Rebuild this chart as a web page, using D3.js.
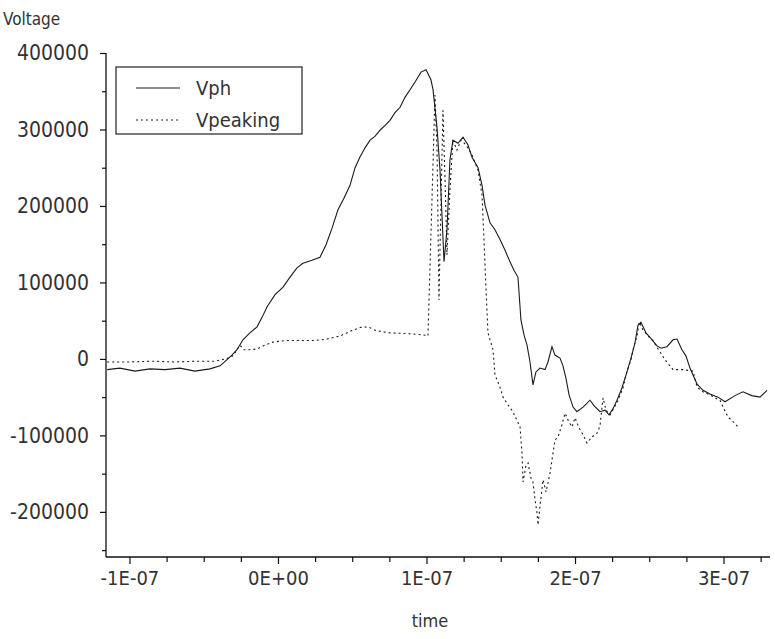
<!DOCTYPE html>
<html>
<head>
<meta charset="utf-8">
<script src="https://cdn.jsdelivr.net/npm/d3@7"></script>
<style>
  html, body { margin: 0; padding: 0; background: #fff; }
  svg text { font-family: "Liberation Sans Narrow", "DejaVu Sans Condensed", "Liberation Sans", sans-serif; fill: #333; }
</style>
</head>
<body>
<svg id="chart" width="775" height="639"></svg>
<script>
// time values in units of 1E-07 s, voltages in V
const vphTime = [-1.15,-1.064,-0.963,-0.862,-0.761,-0.66,-0.559,-0.458,-0.39,-0.343,-0.31,-0.276,-0.236,-0.189,-0.141,-0.108,-0.074,-0.02,0.034,0.081,0.128,0.168,0.229,0.283,0.323,0.364,0.404,0.444,0.485,0.519,0.552,0.586,0.62,0.653,0.687,0.72,0.754,0.788,0.822,0.855,0.889,0.923,0.963,0.997,1.03,1.044,1.071,1.091,1.118,1.138,1.158,1.178,1.212,1.246,1.279,1.306,1.347,1.374,1.394,1.428,1.461,1.495,1.529,1.562,1.589,1.616,1.636,1.657,1.677,1.697,1.717,1.737,1.764,1.798,1.818,1.845,1.865,1.899,1.919,1.939,1.96,1.987,2.013,2.054,2.101,2.128,2.168,2.202,2.229,2.256,2.283,2.316,2.35,2.377,2.404,2.424,2.444,2.478,2.519,2.552,2.579,2.619,2.66,2.687,2.72,2.747,2.774,2.822,2.862,2.909,2.963,3.01,3.077,3.131,3.19,3.246,3.293];
const vphValue = [-14000,-12000,-16000,-13000,-14000,-12000,-16000,-13000,-9000,-1000,5000,12000,25000,34000,42000,54000,68000,84000,94000,107000,119000,125000,129000,133000,149000,171000,195000,210000,227000,250000,264000,276000,286000,291000,299000,305000,312000,322000,329000,342000,352000,362000,375000,378000,365000,352000,302000,247000,127000,169000,260000,286000,282000,290000,280000,264000,250000,227000,201000,178000,169000,156000,142000,127000,116000,107000,51000,31000,18000,-4000,-34000,-17000,-12000,-14000,-4000,16000,5000,1000,-9000,-25000,-47000,-63000,-69000,-63000,-54000,-61000,-69000,-67000,-73000,-65000,-54000,-38000,-17000,1000,21000,44000,48000,34000,25000,17000,14000,16000,25000,26000,12000,4000,-12000,-33000,-41000,-46000,-50000,-56000,-48000,-43000,-48000,-50000,-41000];

const vpkTime = [-1.15,-1.0,-0.85,-0.7,-0.55,-0.424,-0.377,-0.337,-0.303,-0.276,-0.256,-0.229,-0.189,-0.141,-0.088,-0.034,0.047,0.148,0.249,0.33,0.418,0.498,0.552,0.606,0.66,0.754,0.889,0.99,1.01,1.037,1.057,1.071,1.084,1.098,1.111,1.125,1.138,1.158,1.178,1.205,1.232,1.266,1.306,1.347,1.374,1.387,1.401,1.414,1.448,1.461,1.495,1.515,1.549,1.582,1.63,1.643,1.65,1.67,1.684,1.704,1.717,1.731,1.744,1.751,1.764,1.785,1.805,1.832,1.845,1.865,1.886,1.912,1.933,1.953,1.98,2.0,2.027,2.054,2.081,2.114,2.148,2.168,2.189,2.209,2.236,2.263,2.29,2.323,2.35,2.377,2.397,2.418,2.431,2.458,2.492,2.525,2.559,2.606,2.66,2.727,2.795,2.822,2.862,2.909,2.943,2.976,2.997,3.03,3.064,3.098];
const vpkValue = [-4000,-4000,-3000,-4000,-3000,-3000,-1000,1000,4000,12000,18000,12000,12000,13000,18000,22000,24000,24000,24000,26000,30000,37000,41000,42000,37000,34000,33000,31000,30000,208000,345000,273000,77000,208000,325000,234000,136000,221000,286000,273000,286000,280000,267000,247000,214000,156000,90000,34000,12000,-21000,-37000,-50000,-60000,-69000,-89000,-123000,-161000,-139000,-136000,-156000,-161000,-184000,-201000,-217000,-193000,-158000,-174000,-149000,-132000,-106000,-102000,-86000,-71000,-80000,-89000,-77000,-90000,-99000,-110000,-102000,-97000,-88000,-51000,-67000,-73000,-64000,-54000,-38000,-16000,-1000,17000,30000,48000,38000,30000,24000,13000,-1000,-14000,-14000,-16000,-37000,-43000,-47000,-51000,-54000,-63000,-76000,-82000,-89000];

const xMajorTicks = [-1, 0, 1, 2, 3];
const xTickLabels = ["-1E-07", "0E+00", "1E-07", "2E-07", "3E-07"];
const yMajorTicks = [400000, 300000, 200000, 100000, 0, -100000, -200000];
const seriesNames = ["Vph", "Vpeaking"];

const svg = d3.select("#chart");
const plotLeft = 106, plotRight = 770, plotTop = 53, plotBottom = 557;

const x = d3.scaleLinear().domain([-1.158, 3.313]).range([plotLeft, plotRight]);
const y = d3.scaleLinear().domain([-259000, 400000]).range([plotBottom, plotTop]);

// Y axis
const yAxis = d3.axisLeft(y).tickValues(yMajorTicks).tickSize(6).tickFormat(d => String(d));
const yMinor = d3.axisLeft(y).tickValues(d3.range(-250000, 400001, 50000).filter(v => v % 100000 !== 0)).tickSize(4).tickFormat("");
const gy = svg.append("g").attr("transform", `translate(${plotLeft},0)`).call(yAxis);
svg.append("g").attr("transform", `translate(${plotLeft},0)`).call(yMinor);
gy.selectAll("text").attr("x", -17).style("font-size", "21px");

// X axis
const xAxis = d3.axisBottom(x).tickValues(xMajorTicks).tickSize(7).tickFormat((d, i) => xTickLabels[i]);
const xMinor = d3.axisBottom(x).tickValues(d3.range(-1, 3.3, 0.25).filter(v => Math.abs(v - Math.round(v)) > 0.01)).tickSize(5).tickFormat("");
const gx = svg.append("g").attr("transform", `translate(0,${plotBottom})`).call(xAxis);
svg.append("g").attr("transform", `translate(0,${plotBottom})`).call(xMinor);
gx.selectAll("text").attr("y", 14).style("font-size", "20px");

svg.selectAll("path.domain").remove();
svg.selectAll(".tick line").attr("stroke", "#111").attr("stroke-width", 1.2);
// axis lines drawn through scales
svg.append("line").attr("x1", x.range()[0]).attr("x2", x.range()[1]).attr("y1", y.range()[0]).attr("y2", y.range()[0]).attr("stroke", "#111").attr("stroke-width", 1.3);
svg.append("line").attr("x1", x.range()[0]).attr("x2", x.range()[0]).attr("y1", y.range()[0]).attr("y2", y.range()[1]).attr("stroke", "#111").attr("stroke-width", 1.3);

// Titles
svg.append("text").attr("x", 3).attr("y", 25).style("font-size", "17px").text("Voltage");
svg.append("text").attr("x", 430).attr("y", 627).attr("text-anchor", "middle").style("font-size", "18px").text("time");

const line = d3.line().x(d => x(d[0])).y(d => y(d[1]));
const vph = vphTime.map((t, i) => [t, vphValue[i]]);
const vpk = vpkTime.map((t, i) => [t, vpkValue[i]]);

svg.append("path").datum(vph).attr("d", line).attr("fill", "none").attr("stroke", "#1a1a1a").attr("stroke-width", 1.1);
svg.append("path").datum(vpk).attr("d", line).attr("fill", "none").attr("stroke", "#1a1a1a").attr("stroke-width", 1.1).attr("stroke-dasharray", "2,3");

// Legend
const lg = svg.append("g").attr("transform", "translate(116,67)");
lg.append("rect").attr("width", 186).attr("height", 67).attr("fill", "#fff").attr("stroke", "#222").attr("stroke-width", 1.2);
const items = [{name: seriesNames[0], dash: null}, {name: seriesNames[1], dash: "2,3"}];
items.forEach((it, i) => {
  const yy = 21 + i * 32;
  lg.append("line").attr("x1", 20).attr("x2", 64).attr("y1", yy).attr("y2", yy)
    .attr("stroke", "#1a1a1a").attr("stroke-width", 1.1).attr("stroke-dasharray", it.dash);
  lg.append("text").attr("x", 80).attr("y", yy + 7).style("font-size", "20px").text(it.name);
});
</script>
</body>
</html>
